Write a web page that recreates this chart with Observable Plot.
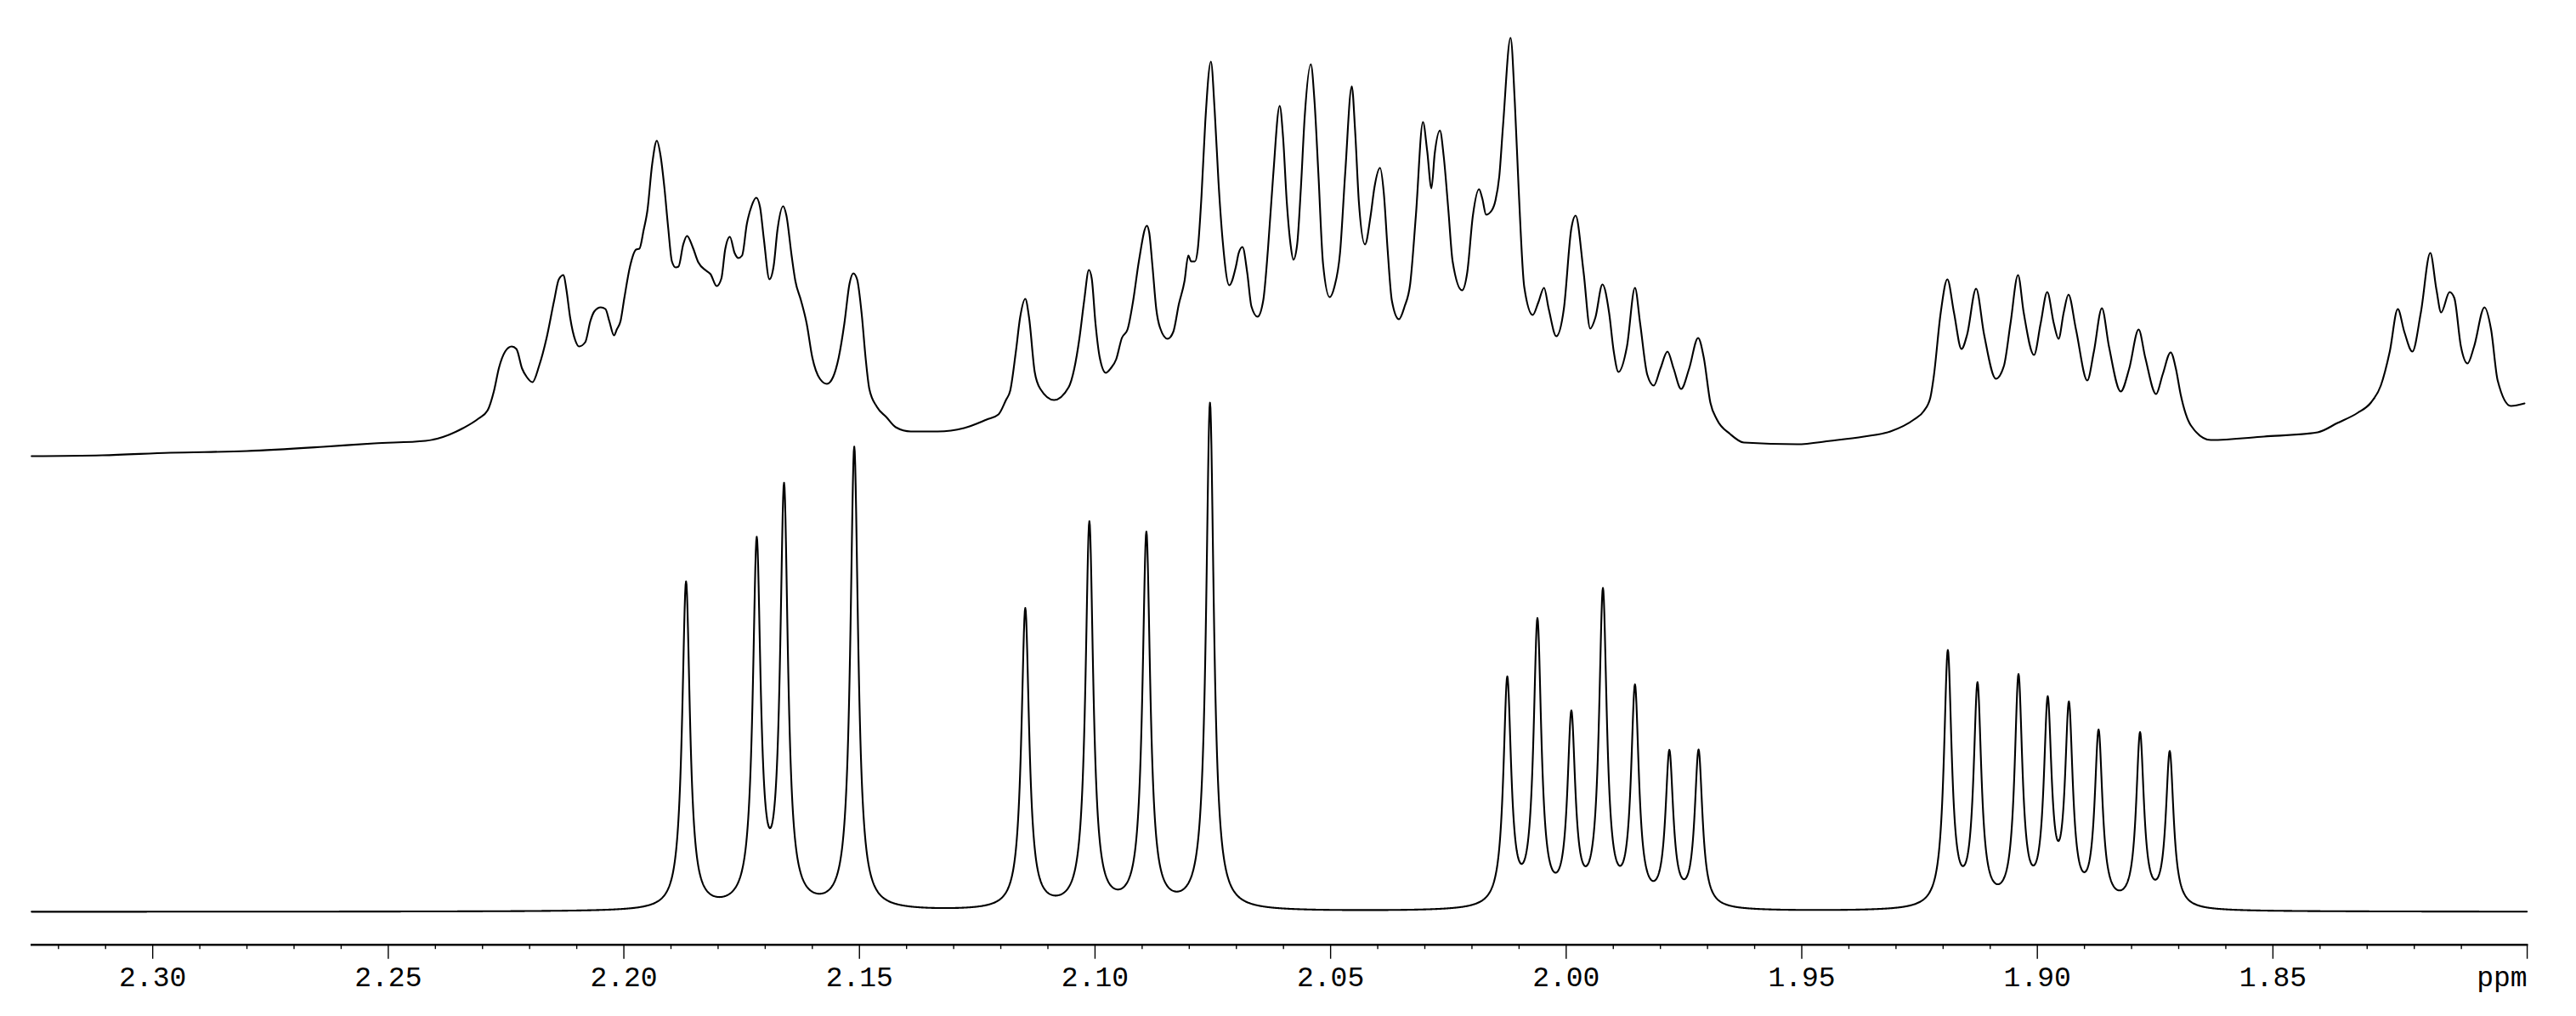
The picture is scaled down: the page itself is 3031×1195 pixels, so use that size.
<!DOCTYPE html>
<html>
<head>
<meta charset="utf-8">
<script src="https://cdn.jsdelivr.net/npm/d3@7"></script>
<script src="https://cdn.jsdelivr.net/npm/@observablehq/plot@0.6"></script>
<style>
html, body { margin: 0; padding: 0; background: #ffffff; overflow: hidden; }
#chart svg { display: block; }
</style>
</head>
<body>
<div id="chart"></div>
<script>
// ---------- axis ticks (ppm) ----------
const majorTicks = [2.30, 2.25, 2.20, 2.15, 2.10, 2.05, 2.00, 1.95, 1.90, 1.85];
const unitTick = [1.80];
const unitLabel = "ppm";
const minorTicks = [2.32, 2.31, 2.29, 2.28, 2.27, 2.26, 2.24, 2.23, 2.22, 2.21, 2.19, 2.18, 2.17, 2.16,
  2.14, 2.13, 2.12, 2.11, 2.09, 2.08, 2.07, 2.06, 2.04, 2.03, 2.02, 2.01, 1.99, 1.98, 1.97, 1.96,
  1.94, 1.93, 1.92, 1.91, 1.89, 1.88, 1.87, 1.86, 1.84, 1.83, 1.82, 1.81];
const ppmRange = [2.3257, 1.7961];

// ---------- simulated spectrum (bottom): line list ----------
const simPpm = [2.1868, 2.1718, 2.1660, 2.1511, 2.1148, 2.1012, 2.0891, 2.0756,
  2.0125, 2.0061, 1.9989, 1.9922, 1.9854, 1.9781, 1.9719,
  1.9190, 1.9127, 1.9040, 1.8978, 1.8933, 1.8870, 1.8782, 1.8719];
const simHeight = [385, 424, 489, 543, 353, 453, 440, 595,
  266, 332, 219, 367, 253, 178, 183,
  299, 257, 266, 232, 227, 202, 202, 182];
const simHalfWidth = 0.00099; // ppm, half width at half height

// ---------- experimental spectrum (top): traced trace ----------
const expPpm = [2.3257, 2.3107, 2.2963, 2.2800, 2.2638, 2.2530, 2.2421, 2.2341, 2.2309, 2.2289,
  2.2276, 2.2265, 2.2252, 2.2238, 2.2228, 2.2216, 2.2206, 2.2194, 2.2180, 2.2164,
  2.2148, 2.2138, 2.2128, 2.2122, 2.2114, 2.2103, 2.2095, 2.2082, 2.2071, 2.2063,
  2.2049, 2.2039, 2.2031, 2.2021, 2.2015, 2.2007, 2.1999, 2.1987, 2.1974, 2.1967,
  2.1958, 2.1950, 2.1940, 2.1930, 2.1922, 2.1914, 2.1906, 2.1898, 2.1890, 2.1884,
  2.1874, 2.1866, 2.1854, 2.1842, 2.1825, 2.1816, 2.1803, 2.1793, 2.1785, 2.1775,
  2.1765, 2.1757, 2.1749, 2.1739, 2.1729, 2.1719, 2.1711, 2.1703, 2.1691, 2.1682,
  2.1674, 2.1662, 2.1655, 2.1644, 2.1636, 2.1624, 2.1612, 2.1600, 2.1584, 2.1569,
  2.1556, 2.1544, 2.1532, 2.1521, 2.1513, 2.1505, 2.1495, 2.1487, 2.1479, 2.1463,
  2.1443, 2.1423, 2.1391, 2.1334, 2.1278, 2.1230, 2.1205, 2.1189, 2.1180, 2.1168,
  2.1159, 2.1148, 2.1140, 2.1128, 2.1116, 2.1087, 2.1056, 2.1044, 2.1033, 2.1023,
  2.1013, 2.1007, 2.0999, 2.0990, 2.0977, 2.0967, 2.0955, 2.0943, 2.0931, 2.0919,
  2.0907, 2.0890, 2.0885, 2.0878, 2.0870, 2.0862, 2.0846, 2.0834, 2.0822, 2.0810,
  2.0802, 2.0796, 2.0788, 2.0782, 2.0774, 2.0766, 2.0754, 2.0746, 2.0738, 2.0729,
  2.0715, 2.0701, 2.0695, 2.0687, 2.0677, 2.0668, 2.0655, 2.0643, 2.0633, 2.0622,
  2.0608, 2.0601, 2.0593, 2.0585, 2.0579, 2.0571, 2.0563, 2.0555, 2.0542, 2.0534,
  2.0526, 2.0516, 2.0502, 2.0492, 2.0480, 2.0469, 2.0455, 2.0448, 2.0440, 2.0427,
  2.0415, 2.0407, 2.0395, 2.0387, 2.0379, 2.0370, 2.0355, 2.0343, 2.0331, 2.0319,
  2.0304, 2.0295, 2.0286, 2.0279, 2.0268, 2.0260, 2.0250, 2.0241, 2.0221, 2.0210,
  2.0198, 2.0185, 2.0178, 2.0170, 2.0158, 2.0150, 2.0142, 2.0134, 2.0118, 2.0109,
  2.0101, 2.0089, 2.0071, 2.0059, 2.0047, 2.0037, 2.0021, 2.0005, 1.9989, 1.9980,
  1.9963, 1.9949, 1.9938, 1.9923, 1.9909, 1.9899, 1.9889, 1.9871, 1.9854, 1.9843,
  1.9828, 1.9814, 1.9800, 1.9785, 1.9772, 1.9756, 1.9739, 1.9720, 1.9708, 1.9694,
  1.9680, 1.9652, 1.9623, 1.9510, 1.9439, 1.9368, 1.9312, 1.9262, 1.9241, 1.9227,
  1.9220, 1.9205, 1.9191, 1.9177, 1.9161, 1.9149, 1.9130, 1.9113, 1.9088, 1.9071,
  1.9057, 1.9041, 1.9029, 1.9007, 1.8993, 1.8979, 1.8965, 1.8955, 1.8944, 1.8934,
  1.8918, 1.8894, 1.8880, 1.8863, 1.8848, 1.8823, 1.8805, 1.8785, 1.8771, 1.8748,
  1.8734, 1.8717, 1.8706, 1.8696, 1.8674, 1.8632, 1.8519, 1.8405, 1.8363, 1.8320,
  1.8292, 1.8271, 1.8252, 1.8235, 1.8221, 1.8204, 1.8186, 1.8166, 1.8153, 1.8143,
  1.8125, 1.8115, 1.8101, 1.8087, 1.8073, 1.8051, 1.8037, 1.8023, 1.7995, 1.7966];
const expIntensity = [536, 537, 540, 542, 547, 551, 554, 569, 580, 590,
  612, 640, 659, 665, 662, 639, 629, 623, 642, 675,
  719, 744, 749, 732, 699, 672, 665, 670, 695, 706,
  711, 709, 695, 678, 685, 695, 722, 759, 779, 780,
  802, 825, 879, 907, 889, 852, 805, 765, 758, 759,
  785, 795, 782, 764, 754, 750, 736, 745, 779, 794,
  775, 769, 772, 809, 830, 840, 829, 792, 744, 760,
  802, 830, 819, 772, 742, 719, 692, 652, 627, 621,
  629, 652, 692, 739, 751, 744, 702, 652, 615, 594,
  582, 570, 565, 565, 569, 579, 585, 602, 613, 659,
  699, 721, 699, 635, 615, 602, 617, 639, 675, 719,
  755, 745, 692, 652, 634, 639, 650, 675, 685, 719,
  765, 807, 799, 759, 709, 687, 674, 682, 715, 742,
  772, 765, 765, 779, 842, 929, 1000, 942, 859, 789,
  737, 759, 775, 782, 752, 712, 700, 719, 779, 865,
  948, 912, 835, 785, 767, 785, 852, 935, 997, 952,
  869, 762, 723, 735, 775, 869, 971, 919, 835, 785,
  819, 852, 875, 845, 779, 719, 697, 712, 739, 819,
  929, 895, 851, 892, 919, 889, 825, 765, 731, 752,
  819, 850, 839, 820, 825, 837, 865, 925, 1028, 952,
  852, 735, 702, 717, 734, 709, 677, 709, 804, 819,
  752, 686, 699, 738, 705, 659, 635, 665, 734, 692,
  632, 619, 639, 659, 639, 615, 639, 675, 652, 599,
  579, 562, 552, 550, 554, 559, 565, 579, 589, 605,
  629, 705, 744, 705, 662, 679, 733, 679, 627, 642,
  692, 749, 705, 655, 692, 729, 692, 674, 705, 726,
  685, 625, 659, 710, 665, 612, 639, 685, 652, 609,
  632, 658, 639, 609, 572, 555, 559, 564, 575, 587,
  599, 619, 659, 709, 682, 659, 705, 775, 732, 705,
  729, 722, 665, 645, 665, 711, 685, 625, 595, 598];

// ---------- build tables ----------
const expData = expPpm.map((p, i) => ({ppm: p, intensity: expIntensity[i]}));

// simulated lineshape: sum of Lorentzian lines from the line list
const simData = [];
for (let p = ppmRange[0]; p >= ppmRange[1] - 1e-9; p -= 0.0001) {
  let s = 0;
  for (let k = 0; k < simPpm.length; k++) {
    const u = (p - simPpm[k]) / simHalfWidth;
    s += simHeight[k] / (1 + u * u);
  }
  simData.push({ppm: p, intensity: s});
}

const font = "'Liberation Mono', 'DejaVu Sans Mono', monospace";

const chart = Plot.plot({
  width: 3031,
  height: 1195,
  marginTop: 0,
  marginBottom: 84.3,
  marginLeft: 36.7,
  marginRight: 58.3,
  style: {background: "#ffffff", color: "#000000", fontFamily: font, fontSize: "33px"},
  x: {domain: ppmRange, axis: null, label: null},
  y: {domain: [-38.7, 1072], axis: null, label: null},
  marks: [
    Plot.frame({anchor: "bottom", stroke: "#000", strokeWidth: 2.4}),
    Plot.axisX(minorTicks, {tickSize: 5.5, fill: "none", label: null, stroke: "#000", strokeWidth: 1.4}),
    Plot.axisX(majorTicks, {tickSize: 17, tickPadding: 8, tickFormat: d3.format(".2f"), label: null,
      fontSize: 33, fontFamily: font, fill: "#000", stroke: "#000", strokeWidth: 1.4}),
    Plot.axisX(unitTick, {tickSize: 17, tickPadding: 8, tickFormat: () => unitLabel, label: null,
      textAnchor: "end", dx: 22, fontSize: 33, fontFamily: font, fill: "#000", stroke: "#000", strokeWidth: 1.4}),
    Plot.line(simData, {x: "ppm", y: "intensity", stroke: "#000", strokeWidth: 2.1}),
    Plot.line(expData, {x: "ppm", y: "intensity", stroke: "#000", strokeWidth: 2.1, curve: "monotone-x"})
  ]
});
document.getElementById("chart").appendChild(chart);
</script>
</body>
</html>
